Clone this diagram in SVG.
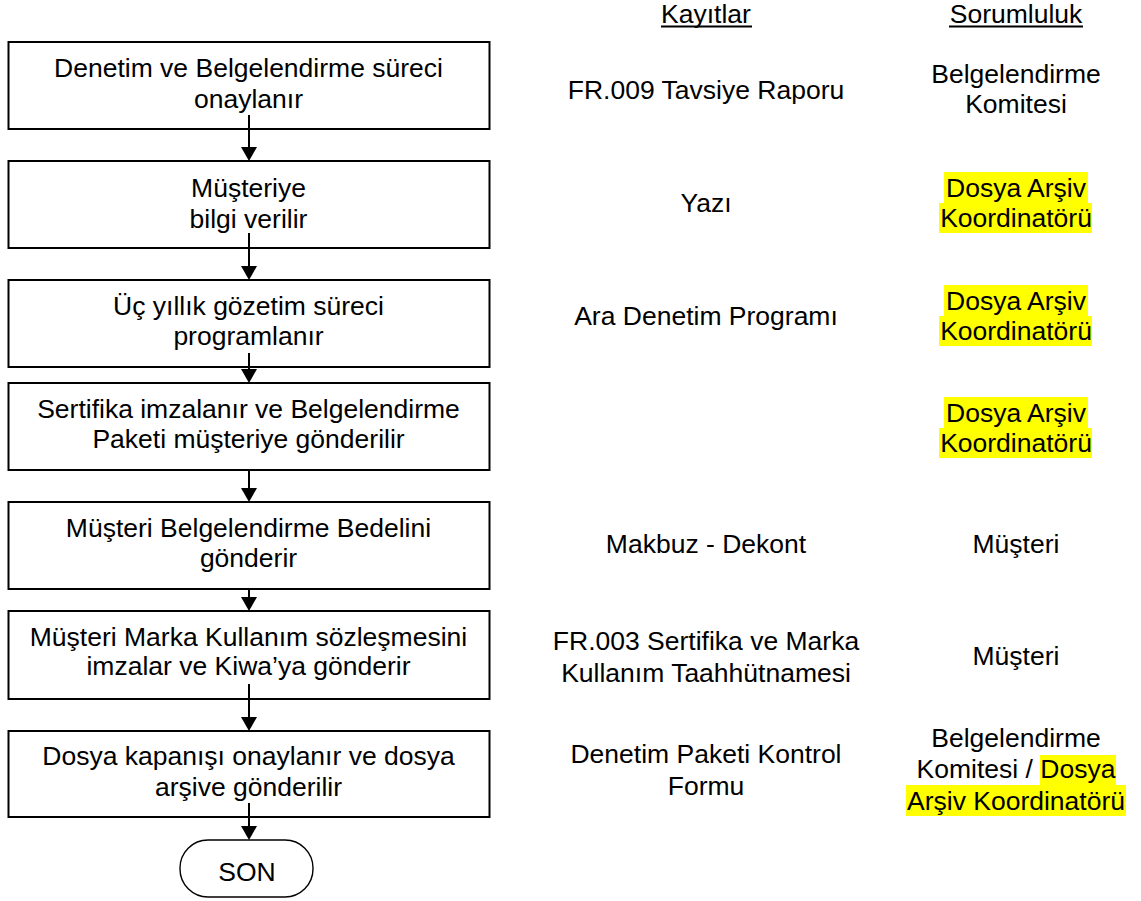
<svg xmlns="http://www.w3.org/2000/svg" width="1141" height="901" viewBox="0 0 1141 901">
  <style>
    text { font-family: "Liberation Sans", Arial, sans-serif; font-size: 26.5px; fill: #000; text-anchor: middle; }
    .box { fill: #fff; stroke: #000; stroke-width: 2; }
    .term { fill: #fff; stroke: #000; stroke-width: 1.4; }
    .flow { stroke: #000; stroke-width: 2; fill: none; }
    .head { fill: #000; stroke: none; }
    .hl { fill: #ffff00; }
    .ul { stroke: #000; stroke-width: 2; }
  </style>
  <rect width="1141" height="901" fill="#fff"/>

  <!-- column headings -->
  <g id="head-kayitlar">
    <text x="706" y="23">Kayıtlar</text>
    <line class="ul" x1="661" y1="26.5" x2="752" y2="26.5"/>
  </g>
  <g id="head-sorumluluk">
    <text x="1016" y="23">Sorumluluk</text>
    <line class="ul" x1="949" y1="26.5" x2="1083" y2="26.5"/>
  </g>

  <!-- process steps -->
  <g id="step1">
    <rect class="box" x="8.5" y="42" width="481" height="87"/>
    <text x="248.5" y="77">Denetim ve Belgelendirme süreci</text>
    <text x="248.5" y="108">onaylanır</text>
  </g>
  <g id="step2">
    <rect class="box" x="8.5" y="161" width="481" height="87"/>
    <text x="248.5" y="197">Müşteriye</text>
    <text x="248.5" y="228">bilgi verilir</text>
  </g>
  <g id="step3">
    <rect class="box" x="8.5" y="280" width="481" height="87"/>
    <text x="248.5" y="315">Üç yıllık gözetim süreci</text>
    <text x="248.5" y="345">programlanır</text>
  </g>
  <g id="step4">
    <rect class="box" x="8.5" y="383" width="481" height="87"/>
    <text x="248.5" y="418">Sertifika imzalanır ve Belgelendirme</text>
    <text x="248.5" y="448">Paketi müşteriye gönderilir</text>
  </g>
  <g id="step5">
    <rect class="box" x="8.5" y="502" width="481" height="87"/>
    <text x="248.5" y="537">Müşteri Belgelendirme Bedelini</text>
    <text x="248.5" y="567">gönderir</text>
  </g>
  <g id="step6">
    <rect class="box" x="8.5" y="611" width="481" height="88"/>
    <text x="248.5" y="646">Müşteri Marka Kullanım sözleşmesini</text>
    <text x="248.5" y="675">imzalar ve Kiwa’ya gönderir</text>
  </g>
  <g id="step7">
    <rect class="box" x="8.5" y="731" width="481" height="86"/>
    <text x="248.5" y="765">Dosya kapanışı onaylanır ve dosya</text>
    <text x="248.5" y="796">arşive gönderilir</text>
  </g>
  <g id="end">
    <rect class="term" x="180" y="840" width="133" height="57" rx="28" ry="28"/>
    <text x="247" y="881">SON</text>
  </g>

  <!-- connectors -->
  <g id="connectors">
    <line class="flow" x1="249" y1="115" x2="249" y2="148"/>
    <polygon class="head" points="241,147 257,147 249,161"/>
    <line class="flow" x1="249" y1="233" x2="249" y2="267"/>
    <polygon class="head" points="241,266 257,266 249,280"/>
    <line class="flow" x1="249" y1="353" x2="249" y2="370"/>
    <polygon class="head" points="241,369 257,369 249,383"/>
    <line class="flow" x1="249" y1="470" x2="249" y2="489"/>
    <polygon class="head" points="241,488 257,488 249,502"/>
    <line class="flow" x1="249" y1="589" x2="249" y2="598"/>
    <polygon class="head" points="241,597 257,597 249,611"/>
    <line class="flow" x1="249" y1="684" x2="249" y2="718"/>
    <polygon class="head" points="241,717 257,717 249,731"/>
    <line class="flow" x1="249" y1="803" x2="249" y2="827"/>
    <polygon class="head" points="241,826 257,826 249,840"/>
  </g>

  <!-- records column -->
  <g id="rec1"><text x="706" y="99">FR.009 Tavsiye Raporu</text></g>
  <g id="rec2"><text x="706" y="212">Yazı</text></g>
  <g id="rec3"><text x="706" y="325">Ara Denetim Programı</text></g>
  <g id="rec5"><text x="706" y="553">Makbuz - Dekont</text></g>
  <g id="rec6">
    <text x="706" y="650">FR.003 Sertifika ve Marka</text>
    <text x="706" y="682">Kullanım Taahhütnamesi</text>
  </g>
  <g id="rec7">
    <text x="706" y="763">Denetim Paketi Kontrol</text>
    <text x="706" y="795">Formu</text>
  </g>

  <!-- responsibility column -->
  <g id="resp1">
    <text x="1016" y="83">Belgelendirme</text>
    <text x="1016" y="113">Komitesi</text>
  </g>
  <g id="resp2">
    <rect class="hl" x="944" y="172" width="144" height="31"/>
    <rect class="hl" x="939" y="203" width="153" height="30"/>
    <text x="1016" y="197">Dosya Arşiv</text>
    <text x="1016" y="227">Koordinatörü</text>
  </g>
  <g id="resp3">
    <rect class="hl" x="944" y="285" width="144" height="31"/>
    <rect class="hl" x="939" y="316" width="153" height="30"/>
    <text x="1016" y="310">Dosya Arşiv</text>
    <text x="1016" y="340">Koordinatörü</text>
  </g>
  <g id="resp4">
    <rect class="hl" x="944" y="397" width="144" height="31"/>
    <rect class="hl" x="939" y="428" width="153" height="30"/>
    <text x="1016" y="422">Dosya Arşiv</text>
    <text x="1016" y="452">Koordinatörü</text>
  </g>
  <g id="resp5"><text x="1016" y="553">Müşteri</text></g>
  <g id="resp6"><text x="1016" y="665">Müşteri</text></g>
  <g id="resp7">
    <rect class="hl" x="1040" y="755" width="76" height="30"/>
    <rect class="hl" x="906" y="785" width="220" height="31"/>
    <text x="1016" y="747">Belgelendirme</text>
    <text x="1016" y="778">Komitesi / Dosya</text>
    <text x="1016" y="810">Arşiv Koordinatörü</text>
  </g>
</svg>
